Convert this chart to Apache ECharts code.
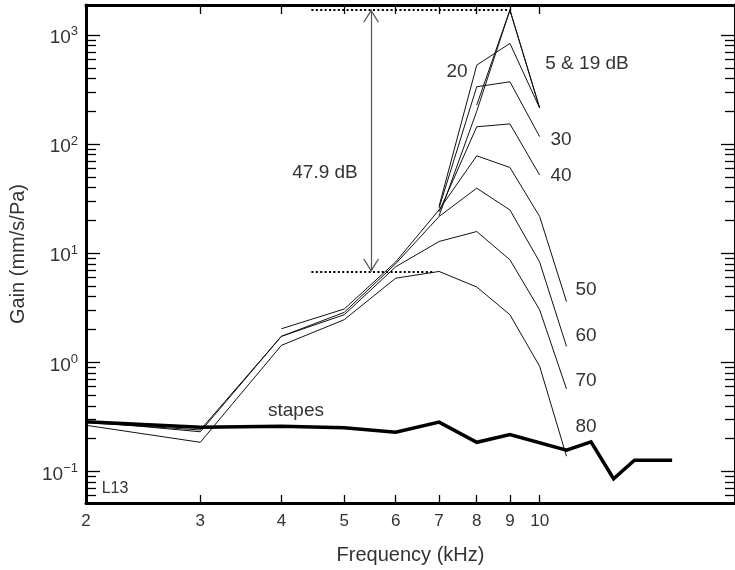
<!DOCTYPE html>
<html>
<head>
<meta charset="utf-8">
<script src="https://cdn.jsdelivr.net/npm/echarts@6/dist/echarts.min.js"></script>
<style>
  html, body { margin: 0; padding: 0; background: #fff; }
  #chart { width: 735px; height: 570px; }
</style>
</head>
<body>
<div id="chart"></div>
<script>
// frequencies (kHz) shared by the level curves
const freqs = [2, 3, 4, 5, 6, 7, 8, 9, 10, 11];
// gain (mm/s/Pa) per stimulus level, null = not measured
const gain5  = [null, null, null, null, null, null, 228, 1690, 214, null];
const gain19 = [null, null, null, null, null, 22, 200, 1690, 214, null];
const gain20 = [null, null, null, null, null, 27, 529, 836, 214, null];
const gain30 = [null, null, null, null, null, 26, 335, 372, 117, null];
const gain40 = [null, null, null, null, null, 24, 144, 153, 52, null];
const gain50 = [null, null, 2.03, 3.08, 8.3, 25, 78, 61, 21.7, 3.6];
const gain60 = [0.28, 0.24, 1.73, 2.87, 8.0, 21.7, 39.4, 24.9, 8.3, 1.40];
const gain70 = [0.288, 0.231, 1.73, 2.73, 7.5, 12.8, 15.8, 8.7, 3.03, 0.57];
const gain80 = [0.265, 0.185, 1.43, 2.46, 5.9, 6.8, 4.9, 2.73, 0.92, 0.138];

const stapesFreqs = [2, 3, 4, 5, 6, 7, 8, 9, 11, 12, 13, 14, 16];
const stapesGain = [0.285, 0.254, 0.26, 0.251, 0.229, 0.283, 0.185, 0.218, 0.157, 0.187, 0.0858, 0.127, 0.127];

// 47.9 dB bracket
const peakGain = 1700;
const lowGain = 6.8;
const arrowFreq = 5.5;
const bracketStart = 4.45;
const peakFreq = 9;
const lowEnd = 6.85;

const xTicks = [3, 4, 5, 6, 7, 8, 9, 10];
const xLabels = [2, 3, 4, 5, 6, 7, 8, 9, 10];
const yMajor = [0.1, 1, 10, 100, 1000];

const yMin = 0.0514, yMax = 1880;
const yMinor = [];
for (let e = -2; e <= 3; e++) {
  for (let m = 2; m <= 9; m++) {
    const v = m * Math.pow(10, e);
    if (v > yMin && v < yMax) yMinor.push(+v.toPrecision(3));
  }
}

const font = 'Liberation Sans';
const txt = '#333';

function pairs(arr) {
  const out = [];
  freqs.forEach((f, i) => { if (arr[i] != null) out.push([f, arr[i]]); });
  return out;
}

const arrowPath = 'path://M8,0 L16,12 L14.6,12 L8,2.2 L1.4,12 L0,12 Z';

function thin(name, arr) {
  return {
    name: name, type: 'line', data: pairs(arr), showSymbol: false, symbol: 'none',
    lineStyle: { color: '#111', width: 1 }, silent: true, animation: false
  };
}

const series = [
  thin('5 dB', gain5), thin('19 dB', gain19), thin('20 dB', gain20), thin('30 dB', gain30),
  thin('40 dB', gain40), thin('50 dB', gain50), thin('60 dB', gain60), thin('70 dB', gain70),
  thin('80 dB', gain80),
  {
    name: 'stapes', type: 'line', symbol: 'none', animation: false,
    data: stapesFreqs.map((f, i) => [f, stapesGain[i]]),
    lineStyle: { color: '#000', width: 3.5, join: 'miter' },
    markLine: {
      silent: true, animation: false,
      symbol: ['none', 'none'],
      label: { show: false },
      lineStyle: { color: '#000', width: 2, type: [2, 2.4], cap: 'butt' },
      data: [
        [{ coord: [bracketStart, peakGain] }, { coord: [peakFreq, peakGain] }],
        [{ coord: [bracketStart, lowGain] }, { coord: [lowEnd, lowGain] }],
        [
          { coord: [arrowFreq, peakGain], symbol: arrowPath, symbolSize: [16, 13], symbolOffset: [0, 6],
            lineStyle: { color: '#555', width: 1.2, type: 'solid' } },
          { coord: [arrowFreq, lowGain], symbol: arrowPath, symbolSize: [16, 13], symbolOffset: [0, 6] }
        ]
      ]
    }
  }
];

function text(s, x, y, size) {
  return {
    type: 'text', x: x, y: y, silent: true,
    style: { text: s, fontSize: size || 19, fontFamily: font, fill: txt, align: 'center', verticalAlign: 'middle' }
  };
}

const chart = echarts.init(document.getElementById('chart'));
chart.setOption({
  animation: false,
  backgroundColor: '#fff',
  grid: { left: 85, top: 5, right: -7, bottom: 66 },
  xAxis: [
    {
      type: 'log', logBase: 10, min: 2, max: 20, position: 'bottom',
      axisLine: { lineStyle: { color: '#000', width: 3 } },
      axisTick: { inside: true, length: 8, customValues: xTicks, lineStyle: { color: '#000', width: 1.3 } },
      axisLabel: { customValues: xLabels, fontSize: 17, fontFamily: font, color: txt, margin: 10 },
      splitLine: { show: false },
      name: 'Frequency (kHz)', nameLocation: 'middle', nameGap: 42,
      nameTextStyle: { fontSize: 20, fontFamily: font, color: txt }
    },
    {
      type: 'log', logBase: 10, min: 2, max: 20, position: 'top',
      axisLine: { lineStyle: { color: '#000', width: 3 } },
      axisTick: { inside: true, length: 9, customValues: xTicks, lineStyle: { color: '#000', width: 1.3 } },
      axisLabel: { show: false },
      splitLine: { show: false }
    }
  ],
  yAxis: [
    {
      type: 'log', logBase: 10, min: yMin, max: yMax, position: 'left',
      axisLine: { show: true, lineStyle: { color: '#000', width: 3 } },
      axisTick: { inside: true, length: 14, customValues: yMajor, lineStyle: { color: '#000', width: 1.3 } },
      axisLabel: {
        customValues: yMajor, margin: 8, color: txt, fontFamily: font,
        formatter: function (v) {
          const e = Math.round(Math.log10(v));
          return '{b|10}{e|' + String(e).replace('-', '\u2212') + '}';
        },
        rich: {
          b: { fontSize: 19, fontFamily: font, color: txt, padding: [6, 0, 0, 0] },
          e: { fontSize: 13, fontFamily: font, color: txt, padding: [0, 0, 6, 0] }
        }
      },
      splitLine: { show: false },
      name: 'Gain (mm/s/Pa)', nameLocation: 'middle', nameGap: 58,
      nameTextStyle: { fontSize: 20, fontFamily: font, color: txt }
    },
    {
      type: 'log', logBase: 10, min: yMin, max: yMax, position: 'left',
      axisLine: { show: false },
      axisTick: { inside: true, length: 10, customValues: yMinor, lineStyle: { color: '#000', width: 1.3 } },
      axisLabel: { show: false }, splitLine: { show: false }
    },
    {
      type: 'log', logBase: 10, min: yMin, max: yMax, position: 'right',
      axisLine: { show: true, lineStyle: { color: '#000', width: 3 } },
      axisTick: { inside: true, length: 14, customValues: yMajor, lineStyle: { color: '#000', width: 1.3 } },
      axisLabel: { show: false }, splitLine: { show: false }
    },
    {
      type: 'log', logBase: 10, min: yMin, max: yMax, position: 'right',
      axisLine: { show: false },
      axisTick: { inside: true, length: 10, customValues: yMinor, lineStyle: { color: '#000', width: 1.3 } },
      axisLabel: { show: false }, splitLine: { show: false }
    }
  ],
  series: series,
  graphic: [
    text('47.9 dB', 325, 173, 19),
    text('20', 457, 72, 19),
    text('5 & 19 dB', 587, 64, 19),
    text('30', 561, 140, 19),
    text('40', 561, 176, 19),
    text('50', 586, 290, 19),
    text('60', 586, 336, 19),
    text('70', 586, 381, 19),
    text('80', 586, 427, 19),
    text('stapes', 296, 411, 19),
    text('L13', 115, 489, 16)
  ]
});
</script>
</body>
</html>
